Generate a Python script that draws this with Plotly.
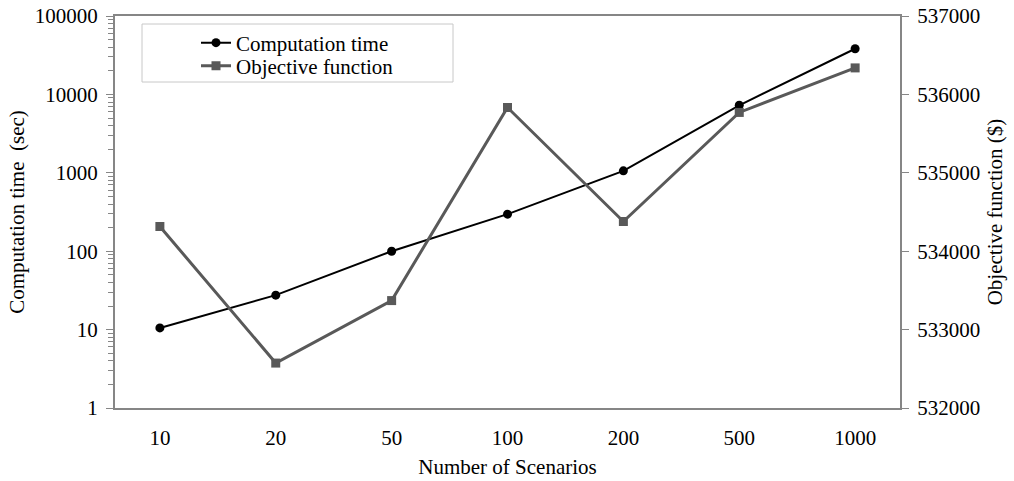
import plotly.graph_objects as go

scenarios = ["10", "20", "50", "100", "200", "500", "1000"]
computation_time = [10.5, 27.5, 100, 297, 1060, 7260, 38200]
objective_function = [534315, 532573, 533370, 535833, 534379, 535770, 536338]

FONT = "Liberation Serif, Times New Roman, serif"
AXIS_GRAY = "#868686"
FS = 21

minor_log_ticks = [m * 10 ** e for e in range(0, 5) for m in range(2, 10)]

fig = go.Figure()
fig.add_trace(go.Scatter(
    x=scenarios, y=computation_time, name="Computation time",
    mode="lines+markers",
    line=dict(color="black", width=2),
    marker=dict(symbol="circle", size=9, color="black"),
    yaxis="y", legend="legend",
))
fig.add_trace(go.Scatter(
    x=scenarios, y=objective_function, name="Objective function",
    mode="lines+markers",
    line=dict(color="#595959", width=3),
    marker=dict(symbol="square", size=9, color="#595959"),
    yaxis="y2", legend="legend2",
))

H = 481 - 16 - 73
def py(px):
    return 1 - (px - 16) / H
def pxx(px):
    return (px - 115) / 785

legend_common = dict(
    xanchor="left", yanchor="middle",
    bgcolor="rgba(0,0,0,0)", borderwidth=0,
    font=dict(family=FONT, size=FS, color="black"),
)

fig.update_layout(
    width=1014, height=481,
    margin=dict(l=115, r=114, t=16, b=73, autoexpand=False),
    paper_bgcolor="white", plot_bgcolor="white",
    font=dict(family=FONT, size=FS, color="black"),
    separators=".",
    showlegend=True,
    legend=dict(x=pxx(196), y=py(43), **legend_common),
    legend2=dict(x=pxx(196), y=py(66), **legend_common),
    shapes=[dict(
        type="rect", xref="paper", yref="paper",
        x0=pxx(142), x1=pxx(453), y0=py(82), y1=py(24),
        line=dict(color="#c8c8c8", width=1), fillcolor="rgba(0,0,0,0)",
        layer="below",
    )],
    xaxis=dict(
        type="category", automargin=False,
        showline=True, linecolor=AXIS_GRAY, linewidth=2,
        mirror=True, ticks="", showgrid=False, zeroline=False,
        ticklabelstandoff=10,
        tickfont=dict(family=FONT, size=FS),
        title=dict(text="Number of Scenarios", font=dict(family=FONT, size=FS), standoff=10),
    ),
    yaxis=dict(
        type="log", range=[0, 5],
        tickvals=[1, 10, 100, 1000, 10000, 100000],
        ticktext=["1", "10", "100", "1000", "10000", "100000"],
        automargin=False,
        showline=True, linecolor=AXIS_GRAY, linewidth=2,
        ticks="outside", ticklen=7, tickcolor=AXIS_GRAY, tickwidth=1,
        ticklabelstandoff=4,
        minor=dict(ticks="outside", ticklen=5, tickcolor=AXIS_GRAY, tickwidth=1,
                   tickvals=minor_log_ticks, showgrid=False),
        showgrid=False, zeroline=False,
        tickfont=dict(family=FONT, size=FS),
        title=dict(text="Computation time  (sec)", font=dict(family=FONT, size=FS), standoff=4),
    ),
    yaxis2=dict(
        overlaying="y", side="right", automargin=False,
        range=[532000, 537000], dtick=1000, tickformat="d",
        showline=True, linecolor=AXIS_GRAY, linewidth=2,
        ticks="outside", ticklen=7, tickcolor=AXIS_GRAY, tickwidth=1,
        ticklabelstandoff=4,
        showgrid=False, zeroline=False,
        tickfont=dict(family=FONT, size=FS),
        title=dict(text="Objective function ($)", font=dict(family=FONT, size=FS), standoff=8),
    ),
)

fig.write_html("out.html")
